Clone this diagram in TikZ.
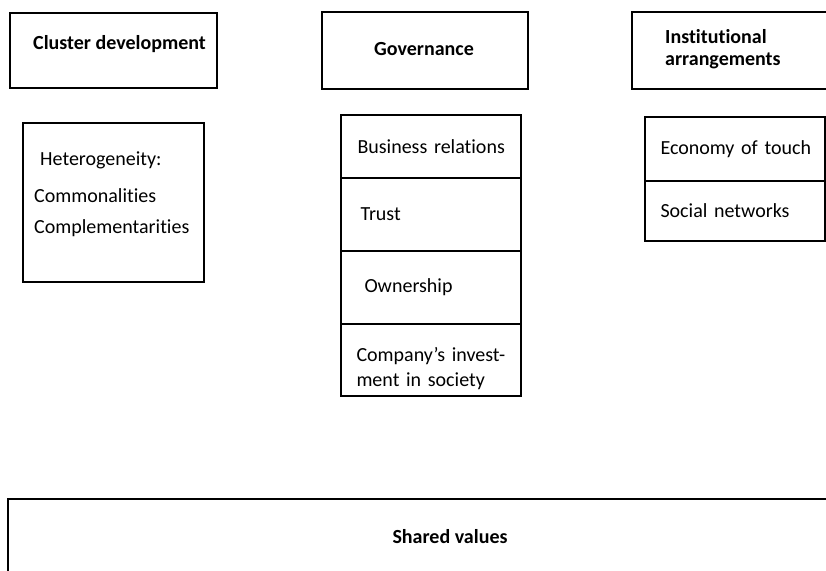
\documentclass[tikz,border=0pt]{standalone}
\usepackage{fontspec}
\setmainfont{Carlito}[Ligatures=NoCommon]
\usetikzlibrary{positioning}

\begin{document}
\begin{tikzpicture}[x=1pt,y=-1pt,
  box/.style={draw,line width=2pt,inner sep=0pt,outer sep=0pt},
  head/.style={font=\bfseries\fontsize{20}{22}\selectfont,inner sep=0pt,align=left},
  txt/.style={font=\fontsize{20}{24}\selectfont,inner sep=0pt,align=left},
  cell/.style={box,minimum width=180pt,text width=163pt,inner xsep=8.5pt,
    align=left,font=\fontsize{20}{25}\selectfont}]
\useasboundingbox (0,0) rectangle (826,570);
\clip (0,0) rectangle (826,570);

% top row
\node[box,minimum width=207pt,minimum height=75pt] (cluster) at (113.5,50.5) {};
\node[head,anchor=west] (clusterT) at (33,44) {Cluster development};
\node[box,minimum width=206pt,minimum height=77pt] (gov) at (425,50.5) {};
\node[head] (govT) at (424,49) {Governance};
\node[box,minimum width=208pt,minimum height=77pt] (inst) at (736,50.5) {};
\node[head,anchor=west] (instT) at (665,49) {Institutional\\arrangements};

% cluster development
\node[box,minimum width=181pt,minimum height=159pt] (het) at (113.5,202.5) {};
\node[txt,anchor=west,font=\fontsize{20}{31}\selectfont] (hetT) at (34,194)
  {\hspace*{6pt}Heterogeneity:\\[6pt]Commonalities\\Complementarities};

% governance
\node[cell,minimum height=63pt] (busrel) at (431,146.5) {\hspace*{8pt}Business relations};
\node[cell,minimum height=73pt,below=0pt of busrel] (trust) {\hspace*{11pt}Trust};
\node[cell,minimum height=73pt,below=0pt of trust] (owner) {\hspace*{15pt}Ownership};
\node[cell,minimum height=72pt,text height=31pt,below=0pt of owner] (invest)
  {\hspace*{7pt}Company’s invest-\\\hspace*{7pt}ment in society};

% institutional arrangements
\node[cell,minimum height=64pt] (touch) at (735,149) {\hspace*{7pt}Economy of touch};
\node[cell,minimum height=60pt,below=0pt of touch] (social) {\hspace*{7pt}Social networks};

% base
\node[box,minimum width=850pt,minimum height=100pt] (shared) at (433,549) {};
\node[head] (sharedT) at (450,537) {Shared values};
\end{tikzpicture}
\end{document}
